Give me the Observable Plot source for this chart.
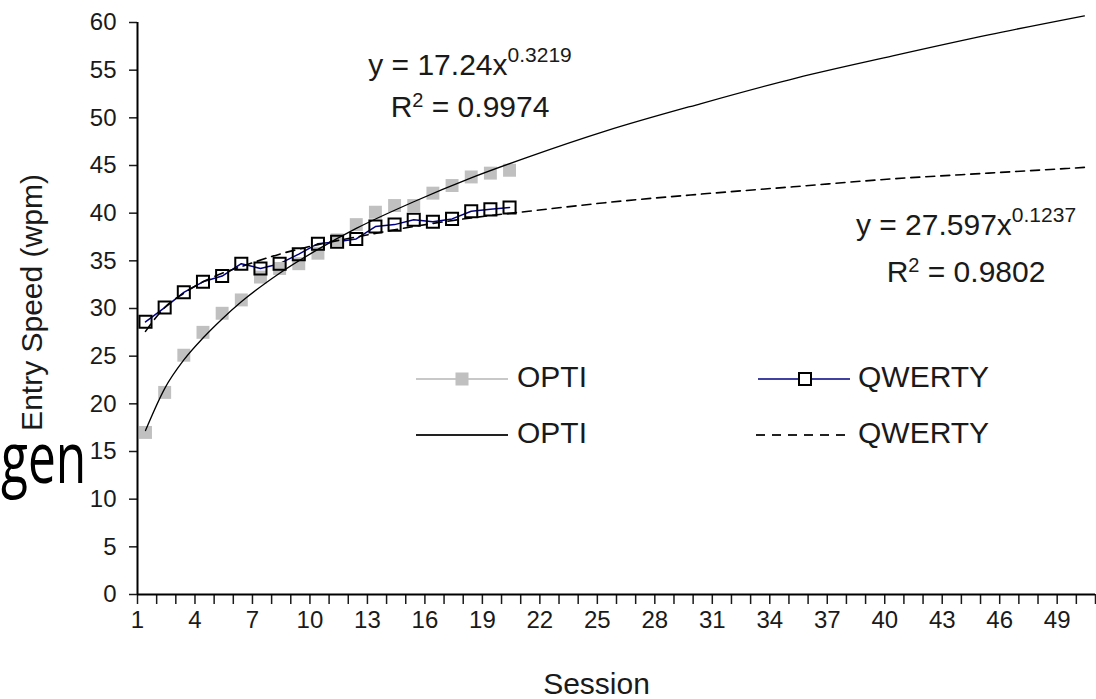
<!DOCTYPE html>
<html>
<head>
<meta charset="utf-8">
<script src="https://cdn.jsdelivr.net/npm/d3@7"></script>
<script src="https://cdn.jsdelivr.net/npm/@observablehq/plot@0.6"></script>
<style>
  html, body { margin: 0; padding: 0; background: #fff; }
  #wrap { position: relative; width: 1096px; height: 699px; overflow: hidden; }
  #overlay { position: absolute; left: 0; top: 0; pointer-events: none; }
</style>
</head>
<body>
<div id="wrap"></div>
<script>
// ---- data ----
const sessions = [1, 2, 3, 4, 5, 6, 7, 8, 9, 10, 11, 12, 13, 14, 15, 16, 17, 18, 19, 20];
const optiWpm = [17.0, 21.2, 25.1, 27.5, 29.5, 30.9, 33.3, 34.2, 34.7, 35.8, 37.2, 38.8, 40.1, 40.8, 40.8, 42.1, 42.9, 43.8, 44.2, 44.5];
const qwertyWpm = [28.6, 30.1, 31.7, 32.8, 33.4, 34.7, 34.2, 34.7, 35.7, 36.8, 37.0, 37.3, 38.6, 38.8, 39.3, 39.1, 39.4, 40.2, 40.4, 40.6];
const trendSessions = [1, 2, 3, 4, 5, 6, 8, 10, 12, 15, 18, 21, 25, 30, 35, 40, 45, 50];
const optiTrend = [17.2, 21.6, 24.6, 26.9, 28.9, 30.7, 33.7, 36.2, 38.4, 41.2, 43.7, 45.9, 48.6, 51.5, 54.2, 56.5, 58.7, 60.7];
const qwertyTrend = [27.6, 30.1, 31.6, 32.8, 33.7, 34.4, 35.7, 36.7, 37.5, 38.6, 39.5, 40.2, 41.1, 42.0, 42.8, 43.6, 44.2, 44.8];
const xTicks = [1, 2, 3, 4, 5, 6, 7, 8, 9, 10, 11, 12, 13, 14, 15, 16, 17, 18, 19, 20, 21, 22, 23, 24, 25, 26,
  27, 28, 29, 30, 31, 32, 33, 34, 35, 36, 37, 38, 39, 40, 41, 42, 43, 44, 45, 46, 47, 48, 49, 50, 51];
const xLabels = [1, 4, 7, 10, 13, 16, 19, 22, 25, 28, 31, 34, 37, 40, 43, 46, 49];
const yTicks = [0, 5, 10, 15, 20, 25, 30, 35, 40, 45, 50, 55, 60];
const xTitle = "Session";
const yTitle = "Entry Speed (wpm)";
const seriesNames = ["OPTI", "QWERTY"];
const equations = [
  {base: "y = 17.24x", exp: "0.3219", r2: "0.9974"},
  {base: "y = 27.597x", exp: "0.1237", r2: "0.9802"}
];

const opti = sessions.map((s, i) => ({session: s, wpm: optiWpm[i]}));
const qwerty = sessions.map((s, i) => ({session: s, wpm: qwertyWpm[i]}));
const optiFit = trendSessions.map((s, i) => ({session: s, wpm: optiTrend[i]}));
const qwertyFit = trendSessions.map((s, i) => ({session: s, wpm: qwertyTrend[i]}));
const labelSet = new Set(xLabels);

const FONT = "'Liberation Sans', Arial, Helvetica, sans-serif";
const OFF = 8; // data points sit slightly right of the category ticks

const chart = Plot.plot({
  width: 1096,
  height: 699,
  marginLeft: 137,
  marginRight: 1,
  marginTop: 22,
  marginBottom: 105,
  style: {fontFamily: FONT, fontSize: "24px", color: "#1a1a1a", background: "#fff", overflow: "visible"},
  x: {domain: [1, 51]},
  y: {domain: [0, 60]},
  marks: [
    Plot.axisY({ticks: yTicks, tickSize: 8, tickPadding: 13, label: null, fontSize: 24, strokeWidth: 1.5}),
    Plot.axisX({ticks: xTicks, tickSize: 10, tickPadding: 6, label: null, fontSize: 24, strokeWidth: 1.5,
      tickFormat: d => labelSet.has(d) ? String(d) : ""}),
    Plot.ruleX([1], {stroke: "#000", strokeWidth: 2}),
    Plot.ruleY([0], {stroke: "#000", strokeWidth: 2}),
    Plot.line(qwerty, {x: "session", y: "wpm", stroke: "#000080", strokeWidth: 1.5, dx: OFF}),
    Plot.dot(opti, {x: "session", y: "wpm", symbol: "square", r: 7.3, fill: "#c0c0c0", stroke: "none", dx: OFF}),
    Plot.line(optiFit, {x: "session", y: "wpm", curve: "monotone-x", stroke: "#000", strokeWidth: 1.3, dx: OFF}),
    Plot.line(qwertyFit, {x: "session", y: "wpm", curve: "monotone-x", stroke: "#000", strokeWidth: 1.6, strokeDasharray: "9,6", dx: OFF}),
    Plot.dot(qwerty, {x: "session", y: "wpm", symbol: "square", r: 6.8, fill: "none", stroke: "#000", strokeWidth: 2, dx: OFF}),
    Plot.text([xTitle], {text: d => d, frameAnchor: "bottom", textAnchor: "middle", dy: 99, lineAnchor: "bottom", fontSize: 30, fill: "#1a1a1a", dx: -20}),
    Plot.text([yTitle], {text: d => d, frameAnchor: "left", textAnchor: "middle", rotate: -90, dx: -105, dy: -6, lineAnchor: "middle", fontSize: 30, fill: "#1a1a1a"})
  ]
});

const wrap = document.getElementById("wrap");
wrap.appendChild(chart);

// ---- overlay: legend, equations, stray text ----
const svg = d3.select(wrap).append("svg")
  .attr("id", "overlay").attr("width", 1096).attr("height", 699)
  .style("font-family", FONT).style("fill", "#1a1a1a");

// legend row 1
svg.append("line").attr("x1", 416).attr("x2", 508).attr("y1", 379).attr("y2", 379).attr("stroke", "#c8c8c8").attr("stroke-width", 2);
svg.append("rect").attr("x", 455.5).attr("y", 372.5).attr("width", 13).attr("height", 13).attr("fill", "#c0c0c0");
svg.append("text").attr("x", 517).attr("y", 387).attr("font-size", 30).text(seriesNames[0]);
svg.append("line").attr("x1", 758).attr("x2", 850).attr("y1", 379).attr("y2", 379).attr("stroke", "#000080").attr("stroke-width", 1.5);
svg.append("rect").attr("x", 799).attr("y", 373).attr("width", 12).attr("height", 12).attr("fill", "#fff").attr("stroke", "#000").attr("stroke-width", 2);
svg.append("text").attr("x", 858).attr("y", 387).attr("font-size", 30).text(seriesNames[1]);
// legend row 2
svg.append("line").attr("x1", 416).attr("x2", 508).attr("y1", 435).attr("y2", 435).attr("stroke", "#222").attr("stroke-width", 2);
svg.append("text").attr("x", 517).attr("y", 443).attr("font-size", 30).text(seriesNames[0]);
svg.append("line").attr("x1", 756).attr("x2", 852).attr("y1", 435).attr("y2", 435).attr("stroke", "#222").attr("stroke-width", 2).attr("stroke-dasharray", "9,7");
svg.append("text").attr("x", 858).attr("y", 443).attr("font-size", 30).text(seriesNames[1]);

// equations
function eq(cx, y1, y2, e) {
  const t1 = svg.append("text").attr("x", cx).attr("y", y1).attr("font-size", 30).attr("text-anchor", "middle");
  t1.append("tspan").text(e.base);
  t1.append("tspan").attr("dy", -13).attr("font-size", 21).text(e.exp);
  const t2 = svg.append("text").attr("x", cx).attr("y", y2).attr("font-size", 30).attr("text-anchor", "middle");
  t2.append("tspan").text("R");
  t2.append("tspan").attr("dy", -10).attr("font-size", 20).text("2");
  t2.append("tspan").attr("dy", 10).text(" = " + e.r2);
}
eq(470, 75, 117, equations[0]);
eq(966, 235, 282, equations[1]);

// stray large text at left edge (horizontally condensed)
svg.append("text").attr("transform", "translate(1,483) scale(0.69,1)")
  .attr("x", 0).attr("y", 0).attr("font-size", 72)
  .attr("font-family", "'Open Sans', 'Noto Sans', sans-serif").attr("fill", "#000")
  .text("gen");
</script>
</body>
</html>
